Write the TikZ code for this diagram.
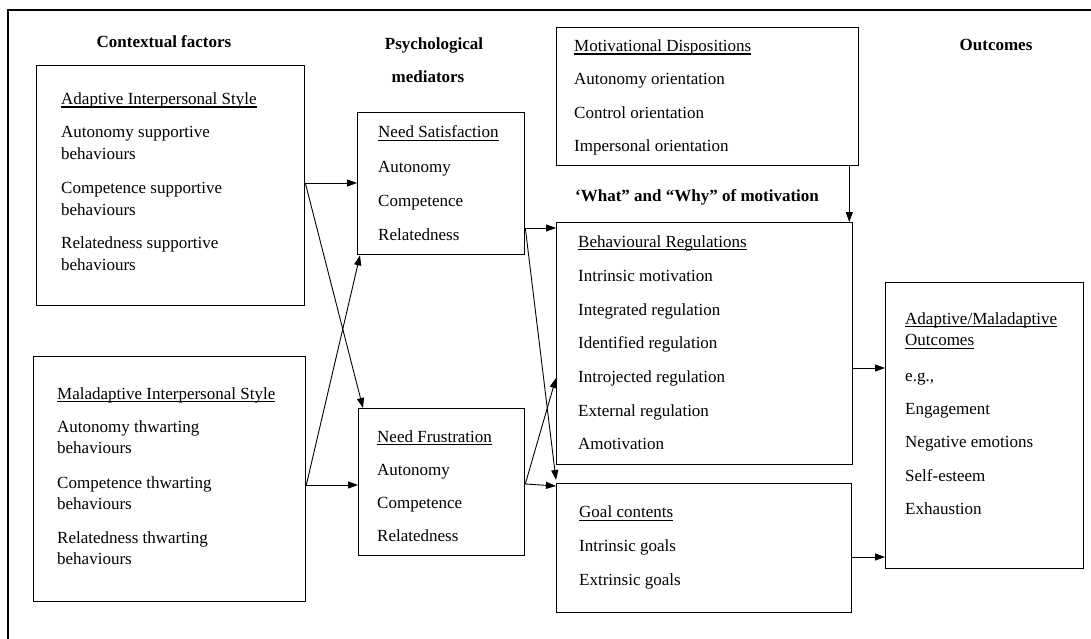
\documentclass[tikz,border=0pt]{standalone}
\usepackage{fontspec}
\setmainfont{Liberation Serif}
\usetikzlibrary{arrows.meta}
% underline drawn a little below the baseline, Word style
\newcommand\undl[1]{\setbox0\hbox{#1}\rlap{\vrule width\wd0 height -2pt depth 3.1pt}\box0}
\begin{document}
\begin{tikzpicture}[x=1pt,y=-1pt,
  box/.style={draw, line width=1.3pt, inner sep=0pt, anchor=north west},
  txt/.style={anchor=base west, inner sep=0pt, font=\fontsize{17}{20}\selectfont},
  head/.style={anchor=base, inner sep=0pt, font=\fontsize{17}{20}\selectfont\bfseries},
  arr/.style={line width=0.9pt, -{Triangle[length=10pt,width=7pt]}},
]
\useasboundingbox (0,0) rectangle (1091,639);
% page frame
\draw[line width=1.2pt] (8,639) -- (8,10) -- (1091,10);

% column headings
\node[head] (hCtx) at (164,47.5) {Contextual factors};
\node[head] (hPsy1) at (434,49.5) {Psychological};
\node[head] (hPsy2) at (428,82.5) {mediators};
\node[head] (hOut) at (996,51) {Outcomes};
\node[head, anchor=base west] (hWhat) at (575,201) {‘What” and “Why” of motivation};

% boxes
\node[box, minimum width=268pt, minimum height=240pt] (A)  at (36,65) {};
\node[box, minimum width=272pt, minimum height=245pt] (M)  at (33,356) {};
\node[box, minimum width=167pt, minimum height=142pt] (NS) at (357,112) {};
\node[box, minimum width=166pt, minimum height=147pt] (NF) at (358,408) {};
\node[box, minimum width=302pt, minimum height=138pt] (MD) at (556,27) {};
\node[box, minimum width=296pt, minimum height=242pt] (BR) at (556,222) {};
\node[box, minimum width=295pt, minimum height=129pt] (GC) at (556,483) {};
\node[box, minimum width=198pt, minimum height=286pt] (OUT) at (885,282) {};

% adaptive interpersonal style
\node[txt] (a0) at (61,104.5) {\undl{Adaptive Interpersonal Style}};
\node[txt] (a1) at (61,137.5) {Autonomy supportive};
\node[txt] (a2) at (61,160) {behaviours};
\node[txt] (a3) at (61,193.5) {Competence supportive};
\node[txt] (a4) at (61,215) {behaviours};
\node[txt] (a5) at (61,248.5) {Relatedness supportive};
\node[txt] (a6) at (61,270) {behaviours};

% maladaptive interpersonal style
\node[txt] (m0) at (57,399) {\undl{Maladaptive Interpersonal Style}};
\node[txt] (m1) at (57,432) {Autonomy thwarting};
\node[txt] (m2) at (57,453) {behaviours};
\node[txt] (m3) at (57,488) {Competence thwarting};
\node[txt] (m4) at (57,509) {behaviours};
\node[txt] (m5) at (57,543) {Relatedness thwarting};
\node[txt] (m6) at (57,564) {behaviours};

% need satisfaction
\node[txt] (s0) at (378,138) {\undl{Need Satisfaction}};
\node[txt] (s1) at (378,172) {Autonomy};
\node[txt] (s2) at (378,206) {Competence};
\node[txt] (s3) at (378,240) {Relatedness};

% need frustration
\node[txt] (f0) at (377,442) {\undl{Need Frustration}};
\node[txt] (f1) at (377,475) {Autonomy};
\node[txt] (f2) at (377,508.5) {Competence};
\node[txt] (f3) at (377,541.5) {Relatedness};

% motivational dispositions
\node[txt] (d0) at (574,51.5) {\undl{Motivational Dispositions}};
\node[txt] (d1) at (574,84.5) {Autonomy orientation};
\node[txt] (d2) at (574,118.5) {Control orientation};
\node[txt] (d3) at (574,151.5) {Impersonal orientation};

% behavioural regulations
\node[txt] (r0) at (578,247) {\undl{Behavioural Regulations}};
\node[txt] (r1) at (578,281) {Intrinsic motivation};
\node[txt] (r2) at (578,315) {Integrated regulation};
\node[txt] (r3) at (578,348.5) {Identified regulation};
\node[txt] (r4) at (578,382) {Introjected regulation};
\node[txt] (r5) at (578,416) {External regulation};
\node[txt] (r6) at (578,449) {Amotivation};

% goal contents
\node[txt] (g0) at (579,517.5) {\undl{Goal contents}};
\node[txt] (g1) at (579,551) {Intrinsic goals};
\node[txt] (g2) at (579,585) {Extrinsic goals};

% outcomes
\node[txt] (o0) at (905,324) {\undl{Adaptive/Maladaptive}};
\node[txt] (o1) at (905,345.5) {\undl{Outcomes}};
\node[txt] (o2) at (905,381) {e.g.,};
\node[txt] (o3) at (905,414) {Engagement};
\node[txt] (o4) at (905,447) {Negative emotions};
\node[txt] (o5) at (905,481) {Self-esteem};
\node[txt] (o6) at (905,514.5) {Exhaustion};

% connector start points on the box sides
\coordinate (aR) at ([yshift=-118pt]A.north east);
\coordinate (mR) at ([yshift=-129pt]M.north east);
\coordinate (sR) at ([yshift=-116pt]NS.north east);
\coordinate (fR) at ([yshift=-76pt]NF.north east);
\coordinate (dB) at ([xshift=-10pt]MD.south east);
\coordinate (bR) at ([yshift=-146pt]BR.north east);
\coordinate (gR) at ([yshift=-74pt]GC.north east);

% contextual factors -> mediators
\draw[arr] (aR) -- (aR -| NS.west);
\draw[arr] (aR) -- ([xshift=5pt]NF.north west);
\draw[arr] (mR) -- (mR -| NF.west);
\draw[arr] (mR) -- ([xshift=3pt]NS.south west);

% mediators -> regulations and goals
\draw[arr] (sR) -- (sR -| BR.west);
\draw[arr] (sR) -- ([yshift=3pt]GC.north west);
\draw[arr] (fR) -- ([yshift=-3pt]GC.north west);
\draw[arr] (fR) -- ([yshift=-156pt]BR.north west);

% dispositions -> regulations
\draw[arr] (dB) -- (dB |- BR.north);

% regulations and goals -> outcomes
\draw[arr] (bR) -- (bR -| OUT.west);
\draw[arr] (gR) -- (gR -| OUT.west);
\end{tikzpicture}
\end{document}
